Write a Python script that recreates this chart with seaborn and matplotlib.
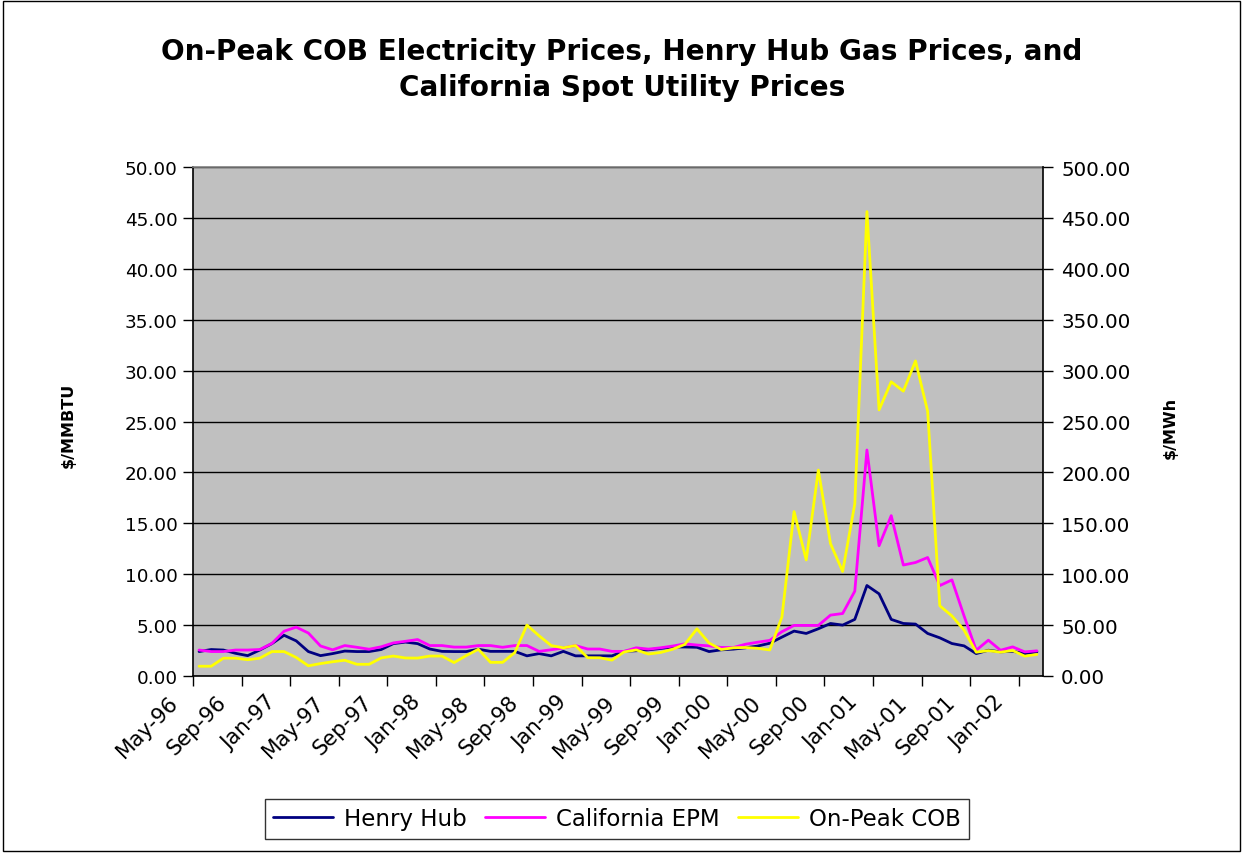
import numpy as np
import pandas as pd
import matplotlib
matplotlib.use("Agg")
import matplotlib.pyplot as plt
import matplotlib.transforms as mtransforms
from matplotlib.patches import Rectangle
from matplotlib.ticker import FormatStrFormatter
import seaborn as sns

# Monthly observations, May 1996 through February 2002
months = pd.date_range("1996-05-01", "2002-02-01", freq="MS")

# Henry Hub gas price, $/MMBTU (left axis)
henry_hub = [
    2.40, 2.60, 2.55, 2.23, 2.00, 2.55, 3.18, 4.00, 3.45, 2.40, 2.00, 2.20,
    2.45, 2.40, 2.40, 2.60, 3.18, 3.33, 3.18, 2.65, 2.42, 2.40, 2.40, 2.63,
    2.42, 2.42, 2.42, 1.98, 2.20, 1.98, 2.42, 1.98, 1.98, 1.98, 1.98, 2.42,
    2.48, 2.57, 2.70, 2.85, 2.85, 2.82, 2.40, 2.57, 2.64, 2.77, 2.94, 3.22,
    3.82, 4.41, 4.18, 4.64, 5.16, 5.00, 5.56, 8.89, 8.07, 5.56, 5.16, 5.10,
    4.18, 3.75, 3.19, 2.96, 2.20, 2.53, 2.37, 2.43, 2.20, 2.37,
]

# California EPM utility price, $/MMBTU (left axis)
california_epm = [
    2.55, 2.40, 2.40, 2.55, 2.55, 2.60, 3.20, 4.40, 4.80, 4.22, 2.95, 2.57,
    2.99, 2.82, 2.63, 2.87, 3.25, 3.41, 3.58, 2.99, 2.99, 2.84, 2.84, 2.99,
    2.99, 2.82, 2.99, 2.99, 2.42, 2.58, 2.75, 2.99, 2.65, 2.65, 2.42, 2.42,
    2.77, 2.64, 2.77, 2.94, 3.16, 3.04, 2.96, 2.80, 2.80, 3.12, 3.32, 3.50,
    4.35, 4.97, 4.97, 4.97, 5.98, 6.14, 8.33, 22.20, 12.80, 15.75, 10.90, 11.15,
    11.64, 8.88, 9.44, 5.90, 2.53, 3.52, 2.53, 2.86, 2.37, 2.47,
]

# On-peak COB electricity price, $/MWh (right axis)
on_peak_cob = [
    9.6, 9.6, 17.5, 17.5, 16.0, 17.5, 24.0, 24.0, 18.2, 10.0, 12.2, 14.0,
    15.5, 11.5, 11.5, 17.8, 19.6, 17.7, 17.6, 19.6, 19.6, 13.2, 20.0, 26.3,
    13.4, 13.4, 23.0, 50.0, 39.5, 29.9, 27.7, 29.9, 18.0, 17.9, 15.6, 23.6,
    25.6, 21.6, 23.1, 26.3, 31.0, 46.3, 32.4, 26.0, 27.7, 28.0, 27.2, 25.6,
    58.0, 161.5, 114.0, 202.3, 130.0, 102.7, 169.0, 456.2, 261.4, 289.0, 279.8, 309.5,
    260.0, 69.0, 59.0, 45.1, 23.4, 24.9, 23.4, 25.0, 19.5, 21.2,
]

series_names = ["Henry Hub", "California EPM", "On-Peak COB"]
series_colors = ["#000080", "#FF00FF", "#FFFF00"]
left_ticks = np.arange(0, 50.01, 5)
right_ticks = np.arange(0, 500.01, 50)
title_text = ("On-Peak COB Electricity Prices, Henry Hub Gas Prices, and\n"
              "California Spot Utility Prices")

sns.set_theme(style="white")
plt.rcParams["font.family"] = ["DejaVu Sans"]
plt.rcParams["text.color"] = "black"
plt.rcParams["xtick.color"] = "black"
plt.rcParams["ytick.color"] = "black"

df = pd.DataFrame({
    "pos": np.arange(len(months)),
    "Henry Hub": henry_hub,
    "California EPM": california_epm,
    "On-Peak COB": on_peak_cob,
})

W, H = 1245, 854
fig = plt.figure(figsize=(W / 100, H / 100), dpi=100)
fig.patch.set_facecolor("white")

ax = fig.add_axes([193 / W, 1 - 677 / H, 850 / W, 509 / H])
ax.set_facecolor("#C0C0C0")
ax2 = ax.twinx()

sns.lineplot(data=df, x="pos", y="Henry Hub", ax=ax, color=series_colors[0],
             linewidth=2.0, label=series_names[0])
sns.lineplot(data=df, x="pos", y="California EPM", ax=ax, color=series_colors[1],
             linewidth=2.0, label=series_names[1])
sns.lineplot(data=df, x="pos", y="On-Peak COB", ax=ax2, color=series_colors[2],
             linewidth=2.0, label=series_names[2])

handles = ax.get_legend_handles_labels()[0] + ax2.get_legend_handles_labels()[0]
for a in (ax, ax2):
    if a.get_legend() is not None:
        a.get_legend().remove()

# Axes ranges and gridlines
ax.set_xlim(-0.5, len(months) - 0.5)
ax.set_ylim(0, 50)
ax2.set_ylim(0, 500)
ax.set_yticks(left_ticks)
ax2.set_yticks(right_ticks)
ax.yaxis.set_major_formatter(FormatStrFormatter("%.2f"))
ax2.yaxis.set_major_formatter(FormatStrFormatter("%.2f"))
ax.set_axisbelow(True)
ax.yaxis.grid(True, color="black", linewidth=1.0)
ax.xaxis.grid(False)
ax2.grid(False)
ax.set_xlabel("")
ax.set_ylabel("")
ax2.set_ylabel("")

ax.tick_params(axis="x", direction="out", length=7, width=1, color="black",
               labelsize=15.3, pad=9, bottom=True)
ax.tick_params(axis="y", direction="out", length=7, width=1, color="black",
               labelsize=13.2, pad=4, left=True)
ax2.tick_params(axis="y", direction="out", length=7, width=1, color="black",
                labelsize=14.3, pad=6, right=True)

# Category ticks sit on the boundaries between months, every fourth month
tick_idx = np.arange(0, len(months), 4)
ax.set_xticks(tick_idx - 0.5)
ax.set_xticklabels(months[tick_idx].strftime("%b-%y"), rotation=45,
                   ha="right", va="center", rotation_mode="anchor")
# nudge the slanted month labels slightly left of their tick marks
shift = mtransforms.ScaledTranslation(-18 / 100, 0, fig.dpi_scale_trans)
for lab in ax.get_xticklabels():
    lab.set_transform(lab.get_transform() + shift)

for s in ("left", "bottom"):
    ax.spines[s].set_color("black")
    ax.spines[s].set_linewidth(1.2)
ax.spines["top"].set_color("#808080")
ax.spines["top"].set_linewidth(1.2)
ax.spines["right"].set_visible(False)
for s in ("left", "bottom", "top"):
    ax2.spines[s].set_visible(False)
ax2.spines["right"].set_color("black")
ax2.spines["right"].set_linewidth(1.2)

# Titles and axis captions
fig.text(622 / W, 1 - 70 / H, title_text, ha="center", va="center",
         fontsize=20.1, fontweight="bold", linespacing=1.32, color="black")
fig.text(68 / W, 1 - 425 / H, r"\$/MMBTU", rotation=90, ha="center",
         va="center", fontsize=11.5, fontweight="bold", color="black")
fig.text(1170 / W, 1 - 428 / H, r"\$/MWh", rotation=90, ha="center",
         va="center", fontsize=11.5, fontweight="bold", color="black")

leg = fig.legend(handles, series_names, loc="center",
                 bbox_to_anchor=(617 / W, 1 - 820 / H), ncol=3, fontsize=16.5,
                 frameon=True, fancybox=False, edgecolor="black",
                 handlelength=2.6, columnspacing=0.8, handletextpad=0.5,
                 borderpad=0.35, borderaxespad=0)
leg.get_frame().set_linewidth(1.0)
for t in leg.get_texts():
    t.set_color("black")
for ln in leg.get_lines():
    ln.set_linewidth(2.0)

# Outer chart border
fig.add_artist(Rectangle((3 / W, 2 / H), (1240 - 3) / W, (852 - 2) / H,
                         transform=fig.transFigure, fill=False,
                         edgecolor="black", linewidth=1.0))

fig.savefig("out.png", dpi=100)
